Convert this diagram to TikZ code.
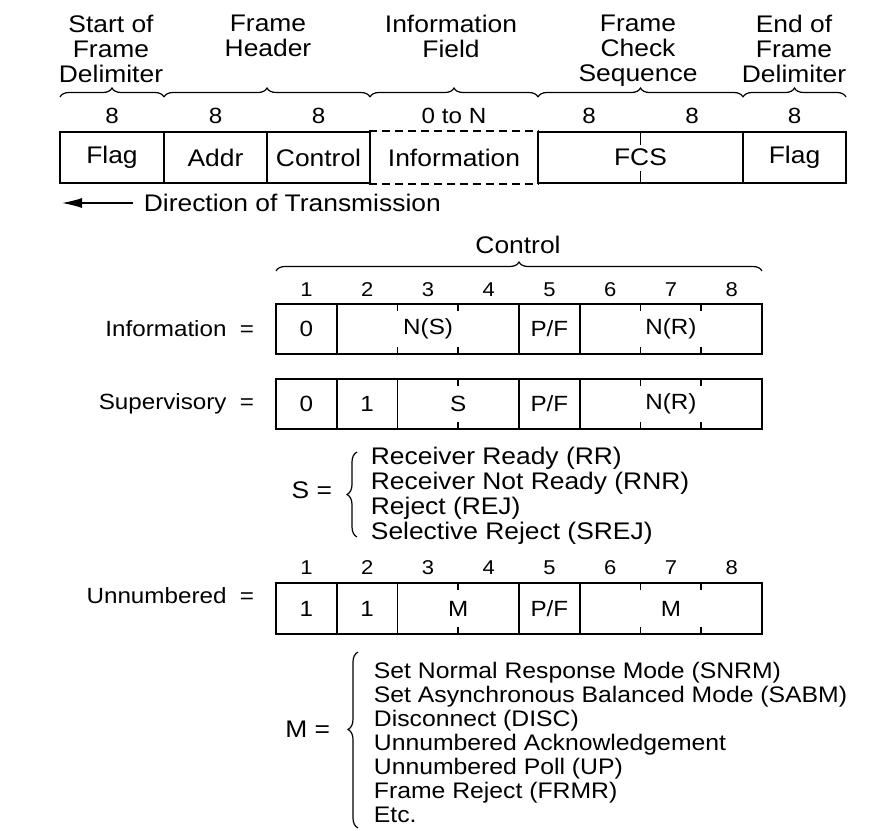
\documentclass[tikz,border=0pt]{standalone}
\usepackage{fontspec}
\setmainfont{Liberation Sans}[FakeStretch=1.1]
\usetikzlibrary{arrows.meta}
\usetikzlibrary{decorations.pathreplacing}
\newcommand{\hdrfont}{\fontsize{24}{25}\selectfont}
\newcommand{\bodyfont}{\fontsize{22}{24}\selectfont}
\newcommand{\numfont}{\fontsize{20}{22}\selectfont}
\newcommand{\mlistfont}{\fontsize{22.5}{24}\selectfont}
\tikzset{
  field/.style={draw, minimum height=51pt, font=\hdrfont},
  bitcell/.style={draw, minimum height=50pt, font=\bodyfont},
  toplabel/.style={align=center, anchor=north, font=\hdrfont},
  curly/.style={decorate, decoration={brace, amplitude=#1}, line width=1.2pt},
  curly/.default=9pt
}

\begin{document}
\begin{tikzpicture}[x=1pt, y=-1pt, line width=1.8pt,
    every node/.style={inner sep=0pt}]
  \useasboundingbox (0,0) rectangle (894,830);

  % field names over the frame
  \node[toplabel] (sfdlbl) at (111,14) {Start of\\Frame\\Delimiter};
  \node[toplabel] (hdrlbl) at (268,14) {Frame\\Header};
  \node[toplabel] (inflbl) at (451,14) {Information\\Field};
  \node[toplabel] (fcslbl) at (638,14) {Frame\\Check\\Sequence};
  \node[toplabel] (efdlbl) at (794,14) {End of\\Frame\\Delimiter};

  \draw[curly] (60,97) -- (164,97);
  \draw[curly] (164,97) -- (370,97);
  \draw[curly] (370,97) -- (538,97);
  \draw[curly] (538,97) -- (743,97);
  \draw[curly] (743,97) -- (846,97);

  % field lengths in bits
  \node[font=\bodyfont] (len1) at (112,116) {8};
  \node[font=\bodyfont] (len2) at (215.5,116) {8};
  \node[font=\bodyfont] (len3) at (318.5,116) {8};
  \node[font=\bodyfont] (len4) at (454,116) {0 to N};
  \node[font=\bodyfont] (len5) at (589,116) {8};
  \node[font=\bodyfont] (len6) at (692,116) {8};
  \node[font=\bodyfont] (len7) at (794.5,116) {8};

  % the frame
  \node[field, minimum width=104pt] (sflag) at (112,157.5) {Flag};
  \node[field, minimum width=103pt] (addr) at (215.5,157.5) {Addr};
  \node[field, minimum width=103pt] (ctrl) at (318.5,157.5) {Control};
  \node[minimum width=168pt, minimum height=51pt, font=\hdrfont] (info) at (454,157.5) {Information};
  \node[field, minimum width=205pt] (fcs) at (640.5,157.5) {FCS};
  \node[field, minimum width=103pt] (eflag) at (794.5,157.5) {Flag};
  \draw[dash pattern=on 8pt off 5pt] (info.north west) -- (info.north east)
    (info.south west) -- (info.south east);
  \draw (fcs.north) -- ++(0,14) (fcs.south) -- ++(0,-13);

  \node[anchor=west, font=\hdrfont] (dirtxt) at (143,203) {Direction of Transmission};
  \coordinate (dirend) at (62,203);
  \draw[line width=1.2pt, -{Latex[length=20pt,width=10pt]}] ([xshift=-10pt]dirtxt.west) -- (dirend);

  % control field
  \node[font=\hdrfont] (ctrllbl) at (518,245) {Control};
  \draw[curly] (276,271) -- (762,271);

  \foreach \i in {1,...,8} {
    \node[font=\numfont] (ibit\i) at ({276+60.75*(\i-0.5)},290) {\i};
    \node[font=\numfont] (ubit\i) at ({276+60.75*(\i-0.5)},568) {\i};
  }

  % I frame
  \node[anchor=east, font=\bodyfont] (irow) at (255,329) {Information~~=};
  \node[bitcell, minimum width=60.75pt] (izero) at (306.4,329) {0};
  \node[bitcell, minimum width=182.25pt] (ins) at (428.1,329) {N(S)};
  \node[bitcell, minimum width=60.75pt] (ipf) at (549.4,329) {P/F};
  \node[bitcell, minimum width=182.25pt] (inr) at (670.9,329) {N(R)};
  \foreach \x in {397.5,458.25,640.5,701.25}
    \draw (\x,304) -- ++(0,7) (\x,354) -- ++(0,-7);

  % S frame
  \node[anchor=east, font=\bodyfont] (srow) at (255,404) {Supervisory~~=};
  \node[bitcell, minimum width=60.75pt] (szero) at (306.4,404) {0};
  \node[bitcell, minimum width=60.75pt] (sone) at (367.1,404) {1};
  \node[bitcell, minimum width=121.5pt] (ss) at (458.25,404) {S};
  \node[bitcell, minimum width=60.75pt] (spf) at (549.4,404) {P/F};
  \node[bitcell, minimum width=182.25pt] (snr) at (670.9,404) {N(R)};
  \foreach \x in {458.25,640.5,701.25}
    \draw (\x,379) -- ++(0,7) (\x,429) -- ++(0,-7);

  \node[anchor=east, font=\hdrfont] (sdef) at (333,490) {S =};
  \draw[curly=10pt] (357,537) -- (357,452);
  \node[anchor=north west, align=left, font=\hdrfont] (slist) at (370,446)
    {Receiver Ready (RR)\\Receiver Not Ready (RNR)\\Reject (REJ)\\Selective Reject (SREJ)};

  % U frame
  \node[anchor=east, font=\bodyfont] (urow) at (255,596) {Unnumbered~~=};
  \node[bitcell, minimum height=51pt, minimum width=60.75pt] (uone) at (306.4,608.5) {1};
  \node[bitcell, minimum height=51pt, minimum width=60.75pt] (utwo) at (367.1,608.5) {1};
  \node[bitcell, minimum height=51pt, minimum width=121.5pt] (um) at (458.25,608.5) {M};
  \node[bitcell, minimum height=51pt, minimum width=60.75pt] (upf) at (549.4,608.5) {P/F};
  \node[bitcell, minimum height=51pt, minimum width=182.25pt] (umm) at (670.9,608.5) {M};
  \foreach \x in {458.25,640.5,701.25}
    \draw (\x,583) -- ++(0,7) (\x,634) -- ++(0,-7);

  \node[anchor=east, font=\hdrfont] (mdef) at (331,729) {M =};
  \draw[decorate, decoration={brace, amplitude=10pt, aspect=0.56}, line width=1.2pt]
    (358,828) -- (358,652);
  \node[anchor=north west, align=left, font=\mlistfont] (mlist) at (373,661)
    {Set Normal Response Mode (SNRM)\\Set Asynchronous Balanced Mode (SABM)\\
     Disconnect (DISC)\\Unnumbered Acknowledgement\\Unnumbered Poll (UP)\\
     Frame Reject (FRMR)\\Etc.};
\end{tikzpicture}
\end{document}
